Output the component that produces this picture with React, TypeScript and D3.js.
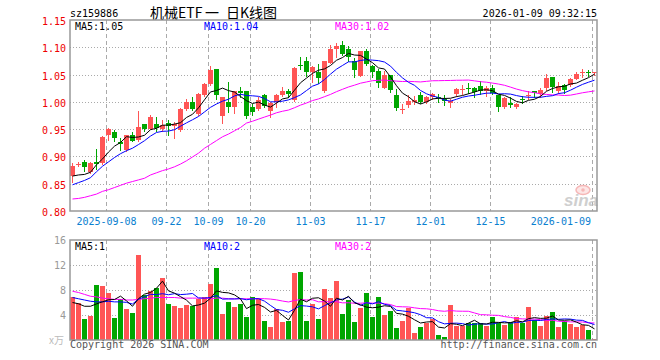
import React from 'react';
import * as d3 from 'd3';

const code = 'sz159886';
const title = '机械ETF 一 日K线图';
const stamp = '2026-01-09 09:32:15';

// daily bars, 2025-08-29 .. 2026-01-09
const open = [
  0.864, 0.886, 0.890, 0.871, 0.890, 0.888, 0.939, 0.945, 0.927, 0.912,
  0.940, 0.931, 0.959, 0.951, 0.960, 0.951, 0.962, 0.955, 0.948, 0.986,
  1.000, 0.977, 1.013, 1.033, 1.060, 0.974, 0.999, 0.991, 1.019, 1.020,
  0.990, 0.987, 1.012, 0.983, 0.999, 1.013, 1.020, 1.004, 1.068, 1.074,
  1.055, 1.055, 1.019, 1.072, 1.097, 1.104, 1.097, 1.074, 1.048, 1.094,
  1.066, 1.057, 1.026, 1.049, 1.012, 0.986, 0.994, 1.000, 1.012, 1.000,
  1.008, 1.009, 1.005, 0.998, 1.014, 1.022, 1.025, 1.026, 1.029, 1.019,
  1.026, 1.012, 0.990, 0.997, 0.991, 1.005, 1.012, 1.019, 1.014, 1.025,
  1.045, 1.020, 1.031, 1.031, 1.042, 1.053, 1.055, 1.053,
];
const high = [
  0.888, 0.890, 0.894, 0.890, 0.913, 0.937, 0.952, 0.948, 0.933, 0.940,
  0.944, 0.983, 0.960, 0.976, 0.973, 0.966, 0.967, 0.963, 0.988, 1.006,
  1.008, 1.017, 1.034, 1.066, 1.061, 1.009, 1.037, 1.020, 1.028, 1.020,
  0.996, 1.008, 1.014, 0.999, 1.014, 1.028, 1.023, 1.063, 1.082, 1.082,
  1.065, 1.069, 1.075, 1.104, 1.108, 1.112, 1.102, 1.080, 1.094, 1.096,
  1.067, 1.061, 1.057, 1.049, 1.023, 0.996, 1.012, 1.011, 1.018, 1.011,
  1.016, 1.014, 1.012, 1.005, 1.025, 1.031, 1.034, 1.028, 1.039, 1.029,
  1.031, 1.012, 1.008, 1.008, 0.998, 1.011, 1.020, 1.020, 1.025, 1.051,
  1.046, 1.036, 1.032, 1.043, 1.054, 1.061, 1.059, 1.055,
];
const low = [
  0.853, 0.882, 0.873, 0.870, 0.877, 0.887, 0.931, 0.929, 0.912, 0.910,
  0.928, 0.929, 0.947, 0.950, 0.947, 0.947, 0.940, 0.934, 0.947, 0.985,
  0.985, 0.976, 1.011, 1.031, 1.005, 0.961, 0.982, 0.980, 1.008, 0.971,
  0.976, 0.985, 0.990, 0.973, 0.990, 1.011, 1.008, 1.002, 1.061, 1.048,
  1.037, 1.034, 1.018, 1.071, 1.082, 1.085, 1.075, 1.045, 1.047, 1.067,
  1.046, 1.028, 1.025, 1.018, 0.985, 0.979, 0.991, 0.996, 0.998, 0.998,
  1.006, 1.000, 0.994, 0.991, 1.011, 1.014, 1.017, 1.008, 1.014, 1.011,
  1.014, 0.983, 0.988, 0.990, 0.988, 0.998, 1.005, 1.008, 1.008, 1.022,
  1.018, 1.017, 1.017, 1.029, 1.041, 1.046, 1.047, 1.049,
];
const close = [
  0.883, 0.887, 0.880, 0.888, 0.886, 0.936, 0.950, 0.934, 0.922, 0.939,
  0.929, 0.954, 0.950, 0.973, 0.952, 0.957, 0.955, 0.959, 0.986, 1.000,
  0.986, 1.014, 1.033, 1.058, 1.013, 1.008, 0.991, 1.020, 1.017, 0.975,
  0.982, 1.004, 0.993, 0.998, 1.012, 1.020, 1.015, 1.062, 1.066, 1.055,
  1.063, 1.044, 1.074, 1.097, 1.103, 1.088, 1.082, 1.059, 1.094, 1.069,
  1.055, 1.034, 1.049, 1.022, 0.988, 0.987, 1.001, 1.004, 1.000, 1.008,
  1.014, 1.007, 1.002, 1.002, 1.023, 1.024, 1.023, 1.018, 1.020, 1.026,
  1.016, 0.990, 1.007, 0.995, 0.996, 1.003, 1.013, 1.017, 1.021, 1.043,
  1.028, 1.029, 1.022, 1.042, 1.051, 1.054, 1.053, 1.054,
];
const volume = [
  6.9, 5.9, 3.4, 3.9, 8.8, 8.6, 7.5, 3.6, 6.6, 5.0,
  4.3, 13.6, 7.2, 7.9, 8.4, 10.0, 5.8, 5.4, 5.1, 5.6,
  5.4, 6.5, 6.9, 9.0, 11.5, 4.2, 6.1, 5.3, 5.8, 3.7,
  6.9, 6.7, 3.0, 2.1, 5.0, 2.9, 3.0, 10.8, 10.9, 3.0,
  5.7, 3.4, 8.2, 6.7, 9.5, 4.2, 6.4, 2.9, 5.2, 7.6,
  3.7, 6.9, 4.0, 4.7, 2.0, 3.1, 5.2, 1.2, 2.1, 2.8,
  3.4, 0.8, 0.5, 5.6, 2.3, 2.3, 2.8, 2.8, 2.7, 2.2,
  3.7, 2.7, 2.4, 2.9, 3.7, 2.8, 5.3, 3.2, 2.3, 3.9,
  4.5, 2.1, 3.0, 2.6, 2.1, 2.4, 1.6, 0.2,
];

const ma5Head = [0.864, 0.866, 0.867, 0.871];
const ma10Head = [0.848, 0.852, 0.856, 0.861, 0.872, 0.882, 0.890, 0.898, 0.905];
const ma30Head = [
  0.822, 0.823, 0.825, 0.828, 0.831, 0.836, 0.839, 0.843, 0.847, 0.851,
  0.854, 0.857, 0.860, 0.866, 0.870, 0.874, 0.877, 0.881, 0.886, 0.892,
  0.899, 0.906, 0.915, 0.922, 0.929, 0.936, 0.941, 0.947, 0.953,
];
const volMa5Head = [6.0, 5.8, 5.4, 5.4];
const volMa10Head = [6.8, 6.6, 6.4, 6.2, 6.1, 6.1, 6.2, 6.1, 6.1];
const volMa30Head = [
  7.8, 7.6, 7.3, 7.0, 6.9, 6.7, 6.6, 6.5, 6.5, 6.4,
  6.4, 6.5, 6.6, 6.7, 6.8, 6.8, 6.8, 6.8, 6.7, 6.7,
  6.7, 6.7, 6.7, 6.6, 6.7, 6.7, 6.6, 6.6, 6.6,
];

const tickIndex = [6, 16, 23, 30, 40, 50, 60, 70, 87];
const tickLabels = ['2025-09-08', '09-22', '10-09', '10-20', '11-03', '11-17', '12-01', '12-15', '2026-01-09'];
const priceTicks = [1.15, 1.1, 1.05, 1.0, 0.95, 0.9, 0.85, 0.8];
const volTicks = [16, 12, 8, 4];

const RED = '#ff5555';
const GREEN = '#00a600';
const MONO = '"DejaVu Sans Mono", monospace';
const CJK = '"Noto Sans CJK SC", sans-serif';

function movingAvg(vals: number[], n: number, head: number[]) {
  return vals.map((_, i) => (i < head.length ? head[i] : (d3.mean(vals.slice(i - n + 1, i + 1)) as number)));
}

export default function App() {
  const left = 70, right = 598, top = 20, pBottom = 211, vTop = 240, vBottom = 340;
  const n = close.length;

  const x = d3.scaleBand<number>().domain(d3.range(n)).range([left, right]);
  const y = d3.scaleLinear().domain([0.8, 1.15]).range([pBottom, top]);
  const vy = d3.scaleLinear().domain([0, 16]).range([vBottom, vTop]);
  const cx = (i: number) => (x(i) as number) + 2.5;

  const ma5 = movingAvg(close, 5, ma5Head);
  const ma10 = movingAvg(close, 10, ma10Head);
  const ma30 = movingAvg(close, 30, ma30Head);
  const vma5 = movingAvg(volume, 5, volMa5Head);
  const vma10 = movingAvg(volume, 10, volMa10Head);
  const vma30 = movingAvg(volume, 30, volMa30Head);

  const pLine = d3.line<number>().x((_, i) => cx(i)).y((v) => y(v));
  const vLine = d3.line<number>().x((_, i) => cx(i)).y((v) => vy(v));

  const up = (i: number) => close[i] >= open[i];
  // title pieces are spaced like half-width cells
  const titleParts = title.split(' ');
  const titleX = [150, 205, 226];

  return (
    <svg width={660} height={360} style={{ position: 'absolute', left: 0, top: 0, background: '#fff' }}>
      <defs>
        <clipPath id="pclip"><rect x={left} y={top} width={right - left} height={pBottom - top} /></clipPath>
        <clipPath id="vclip"><rect x={left} y={vTop} width={right - left} height={vBottom - vTop} /></clipPath>
      </defs>

      {/* header */}
      <text x={70} y={16.5} fontFamily={MONO} fontSize={10} fill="#000">{code}</text>
      <text y={18} fontFamily={CJK} fontSize={14} fill="#000">
        {titleParts.map((s, k) => <tspan key={k} x={titleX[k]}>{s}</tspan>)}
      </text>
      <text x={597} y={16.5} fontFamily={MONO} fontSize={10} fill="#000" textAnchor="end">{stamp}</text>

      {/* price grid */}
      {priceTicks.slice(1, -1).map((t) => (
        <line key={t} x1={left} x2={right} y1={Math.round(y(t)) + 0.5} y2={Math.round(y(t)) + 0.5}
          stroke="#aaa" strokeDasharray="1,2" />
      ))}
      {tickIndex.map((i) => (
        <g key={i}>
          <line x1={(x(i) as number) + 0.5} x2={(x(i) as number) + 0.5} y1={top} y2={pBottom} stroke="#aaa" strokeDasharray="4,3" />
          <line x1={(x(i) as number) + 0.5} x2={(x(i) as number) + 0.5} y1={vTop} y2={vBottom} stroke="#aaa" strokeDasharray="4,3" />
        </g>
      ))}
      {priceTicks.map((t) => (
        <text key={t} x={66} y={Math.round(y(t)) + 4.5} fontFamily={MONO} fontSize={10} fill="#e00" textAnchor="end">
          {t.toFixed(2)}
        </text>
      ))}
      {tickIndex.map((i, k) => (
        <text key={i} x={k === tickIndex.length - 1 ? 591 : (x(i) as number) + 0.5} y={225} fontFamily={MONO} fontSize={10}
          fill="#0a80d0" textAnchor={k === tickIndex.length - 1 ? 'end' : 'middle'}>
          {tickLabels[k]}
        </text>
      ))}

      {/* sina mark */}
      <g opacity={0.8}>
        <ellipse cx={583} cy={190} rx={7} ry={4.5} fill="#fde0e0" stroke="#f4a6a6" strokeWidth={1.5} />
        <circle cx={583} cy={190} r={1.8} fill="#f4a6a6" />
        <text x={581} y={206} fontFamily='"Liberation Sans", sans-serif' fontSize={17} fontWeight="bold" fontStyle="italic"
          fill="#c4c4c4" textAnchor="middle">sina</text>
      </g>

      {/* candles */}
      <g clipPath="url(#pclip)">
        {close.map((c, i) => {
          const xi = x(i) as number;
          const yTop = Math.round(y(Math.max(open[i], c)));
          const yBot = Math.round(y(Math.min(open[i], c)));
          const col = up(i) ? RED : GREEN;
          return (
            <g key={i}>
              <line x1={xi + 2.5} x2={xi + 2.5} y1={Math.round(y(high[i]))} y2={Math.round(y(low[i])) + 1} stroke={col} />
              <rect x={xi} y={yTop} width={5} height={Math.max(1, yBot - yTop)} fill={col} />
            </g>
          );
        })}
        <path d={pLine(ma30) as string} fill="none" stroke="#f0f" />
        <path d={pLine(ma10) as string} fill="none" stroke="#00f" />
        <path d={pLine(ma5) as string} fill="none" stroke="#000" />
      </g>
      <rect x={left} y={top} width={right - left - 1} height={pBottom - top} fill="none" stroke="#999" strokeWidth={1.5} />
      <text x={75} y={29.5} fontFamily={MONO} fontSize={10} fill="#000">MA5:{ma5[n - 1].toFixed(2)}</text>
      <text x={204} y={29.5} fontFamily={MONO} fontSize={10} fill="#00f">MA10:{ma10[n - 1].toFixed(2)}</text>
      <text x={335} y={29.5} fontFamily={MONO} fontSize={10} fill="#f0f">MA30:{ma30[n - 1].toFixed(2)}</text>

      {/* volume */}
      {volTicks.slice(1).map((t) => (
        <line key={t} x1={left} x2={right} y1={Math.round(vy(t)) + 0.5} y2={Math.round(vy(t)) + 0.5}
          stroke="#aaa" strokeDasharray="1,2" />
      ))}
      {volTicks.map((t) => (
        <text key={t} x={66} y={Math.round(vy(t)) + 4} fontFamily={MONO} fontSize={10} fill="#999" textAnchor="end">{t}</text>
      ))}
      <text x={49} y={344} fontFamily={CJK} fontSize={10} fill="#bbb">x万</text>
      <g clipPath="url(#vclip)">
        {volume.map((v, i) => (
          <rect key={i} x={x(i) as number} y={Math.round(vy(v))} width={5} height={vBottom - Math.round(vy(v))}
            fill={up(i) ? RED : GREEN} />
        ))}
        <path d={vLine(vma30) as string} fill="none" stroke="#f0f" />
        <path d={vLine(vma10) as string} fill="none" stroke="#00f" />
        <path d={vLine(vma5) as string} fill="none" stroke="#000" />
      </g>
      <rect x={left} y={vTop} width={right - left - 1} height={vBottom - vTop} fill="none" stroke="#999" strokeWidth={1.5} />
      <text x={75} y={250} fontFamily={MONO} fontSize={10} fill="#000">MA5:{Math.floor(vma5[n - 1])}</text>
      <text x={204} y={250} fontFamily={MONO} fontSize={10} fill="#00f">MA10:{Math.floor(vma10[n - 1])}</text>
      <text x={335} y={250} fontFamily={MONO} fontSize={10} fill="#f0f">MA30:{Math.floor(vma30[n - 1])}</text>

      {/* footer */}
      <text x={70} y={348} fontFamily={MONO} fontSize={10} fill="#555">Copyright 2026 SINA.COM</text>
      <text x={597} y={348} fontFamily={MONO} fontSize={10} fill="#555" textAnchor="end">http://finance.sina.com.cn</text>
    </svg>
  );
}
